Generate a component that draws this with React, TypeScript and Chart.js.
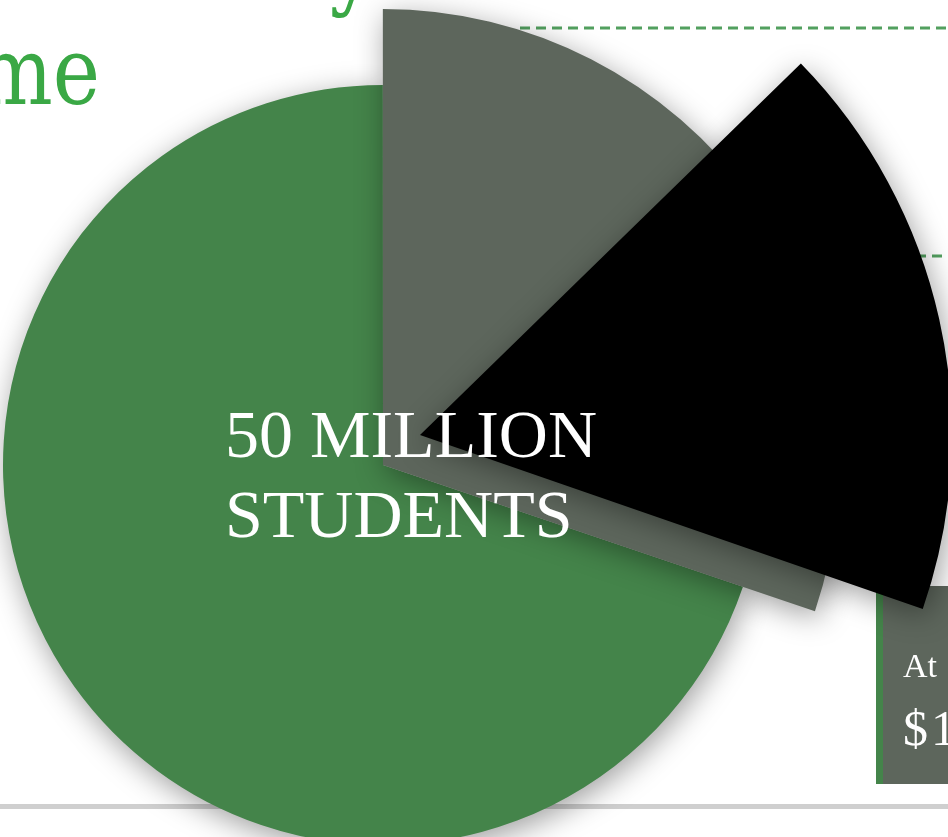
import React, { useEffect, useRef } from "react";
import { Chart, registerables } from "chart.js";

Chart.register(...registerables);

// ---- data ----
const OUTER_LABELS = ["Other students", "Highlighted share"];
const OUTER_VALUES = [69.8, 30.2];
const OUTER_COLORS = ["#44844a", "#5d665c"];

const INNER_LABELS = ["(gap)", "Sub-group", "(rest)"];
const INNER_VALUES = [12.7, 17.6, 69.7];
const INNER_COLORS = ["rgba(0,0,0,0)", "#000000", "rgba(0,0,0,0)"];

const TITLE_FRAGMENTS = ["y", "me"];
const CENTER_LINES = ["50 MILLION", "STUDENTS"];
const BOX_LINES = ["At", "$1"];

// ---- styling constants ----
const W = 948;
const H = 837;
const OUTER_RADII = [380, 456];
const INNER_RADIUS = 532;
const INNER_SHIFT = { dx: 37, dy: -30 };

const shapePlugin = {
  id: "shapes",
  afterDatasetsUpdate(chart: any) {
    const ca = chart.chartArea;
    const cx = (ca.left + ca.right) / 2;
    const cy = (ca.top + ca.bottom) / 2;
    const inner = chart.getDatasetMeta(0);
    const outer = chart.getDatasetMeta(1);
    outer.data.forEach((a: any, i: number) => {
      a.x = cx;
      a.y = cy;
      a.innerRadius = 0;
      a.outerRadius = OUTER_RADII[i];
    });
    inner.data.forEach((a: any) => {
      a.x = cx + INNER_SHIFT.dx;
      a.y = cy + INNER_SHIFT.dy;
      a.innerRadius = 0;
      a.outerRadius = INNER_RADIUS;
    });
  },
  beforeDatasetsDraw(chart: any) {
    const ctx = chart.ctx;
    ctx.save();
    ctx.shadowColor = "rgba(0,0,0,0.38)";
    ctx.shadowBlur = 30;
    ctx.shadowOffsetX = 3;
    ctx.shadowOffsetY = 7;
  },
  afterDatasetsDraw(chart: any) {
    chart.ctx.restore();
  },
};

export default function App() {
  const ref = useRef<HTMLCanvasElement | null>(null);

  useEffect(() => {
    if (!ref.current) return;
    const chart = new Chart(ref.current, {
      type: "pie",
      data: {
        labels: OUTER_LABELS,
        datasets: [
          {
            label: "inner",
            data: INNER_VALUES,
            backgroundColor: INNER_COLORS,
            borderWidth: 0,
            rotation: 0,
            clip: false,
          } as any,
          {
            label: "outer",
            data: OUTER_VALUES,
            backgroundColor: OUTER_COLORS,
            borderWidth: 0,
            rotation: 108.7,
            clip: false,
          } as any,
        ],
      },
      options: {
        responsive: false,
        animation: false,
        events: [],
        layout: { padding: { left: 0, right: 182, top: 93, bottom: 0 } },
        plugins: { legend: { display: false }, tooltip: { enabled: false } },
      },
      plugins: [shapePlugin],
    });
    return () => chart.destroy();
  }, []);

  const green = "#3aa845";
  return (
    <div
      style={{
        position: "absolute",
        left: 0,
        top: 0,
        width: W,
        height: H,
        overflow: "hidden",
        background: "#ffffff",
      }}
    >
      <svg width={W} height={H} style={{ position: "absolute", left: 0, top: 0 }}>
        <line x1={520} y1={28} x2={W} y2={28} stroke="#52a05f" strokeWidth={3} strokeDasharray="10 6" />
        <line x1={900} y1={256} x2={W} y2={256} stroke="#52a05f" strokeWidth={3} strokeDasharray="10 6" />
        <rect x={0} y={804} width={W} height={5} fill="#cfcfcf" />
        <rect x={876} y={586} width={8} height={198} fill="#44844a" />
        <rect x={883} y={586} width={65} height={198} fill="#5d665c" />
      </svg>
      <canvas
        ref={ref}
        width={W}
        height={H}
        style={{ position: "absolute", left: 0, top: 0, width: W, height: H }}
      />
      <svg
        width={W}
        height={H}
        style={{ position: "absolute", left: 0, top: 0, pointerEvents: "none" }}
      >
        <g transform="scale(0.85,1)">
          <text x={388} y={-3} fontFamily="DejaVu Serif" fontSize={94} fill={green}>
            {TITLE_FRAGMENTS[0]}
          </text>
          <text x={-27} y={104} fontFamily="DejaVu Serif" fontSize={94} fill={green}>
            {TITLE_FRAGMENTS[1]}
          </text>
        </g>
        <text x={225} y={457} fontFamily="Liberation Serif" fontSize={68} fill="#ffffff">
          {CENTER_LINES[0]}
        </text>
        <text x={225} y={537} fontFamily="Liberation Serif" fontSize={68} fill="#ffffff">
          {CENTER_LINES[1]}
        </text>
        <text x={903} y={677} fontFamily="Liberation Serif" fontSize={34} fill="#ffffff">
          {BOX_LINES[0]}
        </text>
        <text x={903} y={745} fontFamily="Liberation Serif" fontSize={50} fill="#ffffff" letterSpacing={3}>
          {BOX_LINES[1]}
        </text>
      </svg>
    </div>
  );
}
